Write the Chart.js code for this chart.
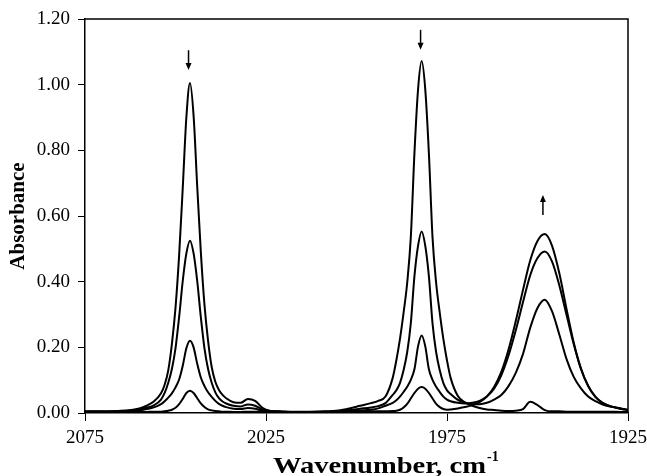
<!DOCTYPE html>
<html>
<head>
<meta charset="utf-8">
<script src="https://cdn.jsdelivr.net/npm/chart.js@4.4.1/dist/chart.umd.min.js"></script>
<style>
	body { margin: 0; background: #fff; }
	#wrap { width: 647px; height: 476px; }
</style>
<title>Absorbance spectra</title>
</head>
<body>
<div id="wrap"><canvas id="myChart" width="647" height="476"></canvas></div>
<script>
// wavenumber grid, cm-1 (dense near the bands)
var wavenumbers = [2075, 2072, 2069, 2066, 2063, 2060, 2058, 2056, 2054, 2053,
	2052, 2051, 2050, 2049, 2048, 2047, 2046, 2045, 2044, 2043,
	2042, 2041, 2040, 2039, 2038, 2037, 2036, 2034, 2032, 2030,
	2028, 2026, 2024, 2021, 2017, 2013, 2009, 2005, 2002, 1999,
	1996, 1994, 1992, 1990, 1989, 1988, 1987, 1986, 1985, 1984,
	1983, 1982, 1981, 1980, 1979, 1978, 1977, 1976, 1975, 1974,
	1972, 1970, 1968, 1966, 1964, 1962, 1960, 1958, 1956, 1954,
	1952, 1950, 1948, 1946, 1944, 1942, 1940, 1938, 1936, 1934,
	1932, 1930, 1927, 1925];

// spectrum at start (strongest bands at 2046 and 1982)
var spectrum1 = [0.005, 0.005, 0.005, 0.006, 0.008, 0.014, 0.022, 0.035, 0.060, 0.086,
	0.130, 0.210, 0.320, 0.480, 0.685, 0.900, 1.005, 0.905, 0.690, 0.490,
	0.330, 0.220, 0.140, 0.095, 0.070, 0.055, 0.045, 0.033, 0.031, 0.043,
	0.037, 0.016, 0.007, 0.005, 0.004, 0.004, 0.005, 0.008, 0.014, 0.022,
	0.030, 0.037, 0.050, 0.107, 0.160, 0.225, 0.305, 0.396, 0.535, 0.790,
	0.985, 1.072, 0.985, 0.790, 0.535, 0.396, 0.305, 0.225, 0.160, 0.107,
	0.052, 0.032, 0.022, 0.015, 0.011, 0.009, 0.007, 0.006, 0.007, 0.012,
	0.034, 0.024, 0.009, 0.005, 0.005, 0.004, 0.004, 0.004, 0.004, 0.004,
	0.004, 0.004, 0.003, 0.003];

var spectrum2 = [0.004, 0.004, 0.004, 0.006, 0.008, 0.011, 0.016, 0.023, 0.041, 0.061,
	0.092, 0.134, 0.197, 0.292, 0.402, 0.486, 0.525, 0.486, 0.402, 0.292,
	0.197, 0.134, 0.092, 0.063, 0.045, 0.035, 0.029, 0.022, 0.020, 0.026,
	0.022, 0.011, 0.006, 0.004, 0.003, 0.003, 0.004, 0.006, 0.009, 0.013,
	0.017, 0.021, 0.030, 0.055, 0.069, 0.091, 0.130, 0.185, 0.273, 0.416,
	0.509, 0.553, 0.509, 0.416, 0.273, 0.185, 0.130, 0.091, 0.069, 0.058,
	0.040, 0.032, 0.027, 0.027, 0.031, 0.041, 0.055, 0.082, 0.122, 0.180,
	0.260, 0.320, 0.345, 0.310, 0.240, 0.165, 0.110, 0.075, 0.050, 0.036,
	0.026, 0.020, 0.014, 0.010];

var spectrum3 = [0.004, 0.004, 0.004, 0.005, 0.006, 0.008, 0.012, 0.017, 0.027, 0.036,
	0.047, 0.060, 0.078, 0.102, 0.144, 0.197, 0.220, 0.200, 0.150, 0.108,
	0.082, 0.063, 0.049, 0.037, 0.028, 0.022, 0.018, 0.013, 0.012, 0.015,
	0.013, 0.007, 0.005, 0.004, 0.003, 0.003, 0.003, 0.004, 0.006, 0.008,
	0.010, 0.014, 0.022, 0.031, 0.039, 0.050, 0.064, 0.080, 0.101, 0.133,
	0.203, 0.236, 0.203, 0.133, 0.101, 0.080, 0.064, 0.050, 0.041, 0.036,
	0.031, 0.029, 0.031, 0.037, 0.050, 0.074, 0.115, 0.175, 0.252, 0.338,
	0.420, 0.472, 0.492, 0.462, 0.390, 0.300, 0.210, 0.134, 0.082, 0.049,
	0.031, 0.021, 0.013, 0.009];

// spectrum at the end (band at 1948 grown)
var spectrum4 = [0.004, 0.004, 0.003, 0.003, 0.003, 0.003, 0.003, 0.004, 0.004, 0.005,
	0.007, 0.010, 0.016, 0.027, 0.043, 0.061, 0.068, 0.061, 0.045, 0.029,
	0.018, 0.011, 0.008, 0.006, 0.005, 0.004, 0.004, 0.003, 0.003, 0.004,
	0.004, 0.003, 0.003, 0.003, 0.003, 0.003, 0.003, 0.003, 0.004, 0.005,
	0.005, 0.005, 0.005, 0.006, 0.007, 0.010, 0.017, 0.028, 0.044, 0.061,
	0.074, 0.079, 0.074, 0.061, 0.044, 0.028, 0.018, 0.012, 0.010, 0.011,
	0.014, 0.018, 0.024, 0.033, 0.050, 0.079, 0.125, 0.193, 0.280, 0.375,
	0.465, 0.524, 0.545, 0.510, 0.427, 0.318, 0.215, 0.136, 0.082, 0.049,
	0.030, 0.021, 0.013, 0.009];

// arrows showing the trend of each band (wavenumber, tail, head)
var arrowX = [2046.4, 1982.3, 1948.5];
var arrowTail = [1.105, 1.167, 0.603];
var arrowHead = [1.045, 1.106, 0.664];

var xTicks = [2075, 2025, 1975, 1925];
var yTicks = [0, 0.2, 0.4, 0.6, 0.8, 1.0, 1.2];

var FONT = "'Liberation Serif', 'Times New Roman', serif";

function toPoints(ys) {
	var pts = [];
	for (var i = 0; i < wavenumbers.length; i++) {
		pts.push({ x: wavenumbers[i], y: ys[i] });
	}
	return pts;
}

function lineSet(name, ys) {
	return {
		label: name,
		data: toPoints(ys),
		showLine: true,
		borderColor: '#000',
		borderWidth: 2,
		pointRadius: 0,
		fill: false,
		cubicInterpolationMode: 'monotone'
	};
}

// top and right edges of the plot box
var framePlugin = {
	id: 'frame',
	afterDraw: function (chart) {
		var a = chart.chartArea, ctx = chart.ctx;
		ctx.save();
		ctx.strokeStyle = '#000';
		ctx.lineWidth = 1.5;
		ctx.beginPath();
		ctx.moveTo(a.left, a.top);
		ctx.lineTo(a.right, a.top);
		ctx.lineTo(a.right, a.bottom);
		ctx.stroke();
		ctx.restore();
	}
};

var arrowPlugin = {
	id: 'arrows',
	afterDatasetsDraw: function (chart) {
		var ctx = chart.ctx, sx = chart.scales.x, sy = chart.scales.y;
		ctx.save();
		ctx.strokeStyle = '#000';
		ctx.fillStyle = '#000';
		ctx.lineWidth = 1.5;
		for (var i = 0; i < arrowX.length; i++) {
			var x = sx.getPixelForValue(arrowX[i]);
			var y0 = sy.getPixelForValue(arrowTail[i]);
			var y1 = sy.getPixelForValue(arrowHead[i]);
			var dir = y1 > y0 ? 1 : -1;
			ctx.beginPath();
			ctx.moveTo(x, y0);
			ctx.lineTo(x, y1 - dir * 5);
			ctx.stroke();
			ctx.beginPath();
			ctx.moveTo(x, y1);
			ctx.lineTo(x - 3, y1 - dir * 7);
			ctx.lineTo(x + 3, y1 - dir * 7);
			ctx.closePath();
			ctx.fill();
		}
		ctx.restore();
	}
};

// x axis title with superscript, a little wider than the font
var xTitlePlugin = {
	id: 'xTitle',
	afterDraw: function (chart) {
		var ctx = chart.ctx;
		var main = 'Wavenumber, cm';
		var sup = '-1';
		var left = 273, span = 213;
		ctx.save();
		ctx.fillStyle = '#000';
		ctx.textBaseline = 'alphabetic';
		ctx.font = 'bold 24px ' + FONT;
		var w1 = ctx.measureText(main).width;
		ctx.save();
		ctx.translate(left, 473);
		ctx.scale(span / w1, 1);
		ctx.fillText(main, 0, 0);
		ctx.restore();
		ctx.font = 'bold 14px ' + FONT;
		ctx.fillText(sup, left + span + 1, 461);
		ctx.restore();
	}
};

var ctx = document.getElementById('myChart').getContext('2d');
var myChart = new Chart(ctx, {
	type: 'scatter',
	data: {
		datasets: [
			lineSet('Spectrum 1', spectrum1),
			lineSet('Spectrum 2', spectrum2),
			lineSet('Spectrum 3', spectrum3),
			lineSet('Spectrum 4', spectrum4)
		]
	},
	options: {
		responsive: false,
		animation: false,
		layout: { padding: { top: 19, right: 19, left: 0, bottom: 0 } },
		plugins: {
			legend: { display: false },
			tooltip: { enabled: false }
		},
		scales: {
			x: {
				type: 'linear',
				reverse: true,
				min: 1925,
				max: 2075,
				afterBuildTicks: function (scale) {
					scale.ticks = xTicks.map(function (v) { return { value: v }; });
				},
				afterFit: function (scale) {
					scale.height = 63;
					scale.paddingLeft = 0;
					scale.paddingRight = 0;
				},
				ticks: {
					color: '#000',
					font: { family: FONT, size: 19 },
					padding: 6,
					maxRotation: 0,
					callback: function (v) { return String(v); }
				},
				grid: { drawOnChartArea: false, color: '#000', tickLength: 8, lineWidth: 1 },
				border: { color: '#000', width: 1.5 }
			},
			y: {
				min: 0,
				max: 1.2,
				afterBuildTicks: function (scale) {
					scale.ticks = yTicks.map(function (v) { return { value: v }; });
				},
				afterFit: function (scale) {
					scale.width = 85;
					scale.paddingTop = 0;
					scale.paddingBottom = 0;
				},
				ticks: {
					color: '#000',
					font: { family: FONT, size: 19 },
					padding: 8,
					callback: function (v) { return v.toFixed(2); }
				},
				grid: { drawOnChartArea: false, color: '#000', tickLength: 7, lineWidth: 1 },
				border: { color: '#000', width: 1.5 },
				title: {
					display: true,
					text: 'Absorbance',
					color: '#000',
					font: { family: FONT, size: 21, weight: 'bold' },
					padding: { top: 6, bottom: 0 }
				}
			}
		}
	},
	plugins: [framePlugin, arrowPlugin, xTitlePlugin]
});
</script>
</body>
</html>
